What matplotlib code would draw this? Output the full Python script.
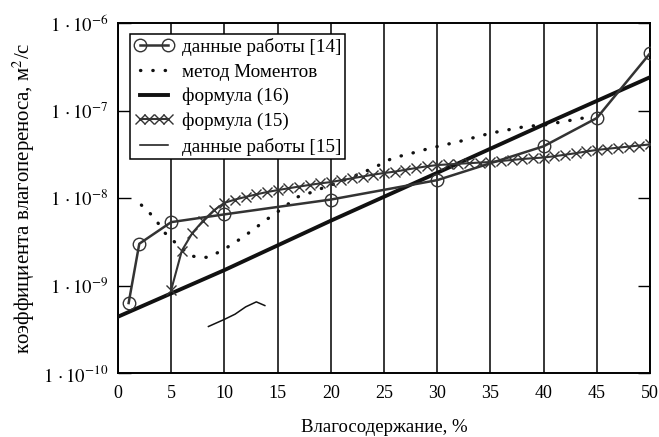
import matplotlib
matplotlib.use("Agg")
import matplotlib.pyplot as plt
from matplotlib.legend_handler import HandlerLine2D
from matplotlib.ticker import FixedLocator, NullLocator

plt.rcParams['font.family'] = ['Liberation Serif', 'DejaVu Serif']
plt.rcParams['mathtext.fontset'] = 'stix'

# ---- data ----
x_w14 = [1, 2, 5, 10, 20, 30, 40, 45, 50]
d_w14 = [6.3e-10, 3.0e-9, 5.3e-9, 6.5e-9, 9.6e-9, 1.6e-8, 3.9e-8, 8.2e-8, 4.5e-7]

x_mom = [2.2, 3, 3.7, 4.4, 5.5, 6.8, 7.5, 8.5, 9.3, 10.2, 11, 11.9, 12.9, 13.6,
         14.6, 16.9, 18, 19, 21, 23, 24.3, 25.9, 27, 29.3, 32, 35, 38.4, 40, 44.2]
d_mom = [8.3e-9, 6.7e-9, 5.3e-9, 4.0e-9, 3.0e-9, 2.2e-9, 2.1e-9, 2.1e-9, 2.35e-9,
         2.7e-9, 3.1e-9, 3.7e-9, 4.5e-9, 5.3e-9, 6.4e-9, 1.03e-8, 1.14e-8, 1.27e-8,
         1.55e-8, 1.95e-8, 2.3e-8, 2.9e-8, 3.1e-8, 3.7e-8, 4.4e-8, 5.5e-8, 6.6e-8,
         6.8e-8, 8.4e-8]

x_f16 = [0, 10, 20, 30, 40, 50]
d_f16 = [4.4e-10, 1.5e-9, 5.5e-9, 1.94e-8, 6.9e-8, 2.4e-7]

x_f15 = list(range(5, 51))
d_f15 = [8.9e-10, 2.5e-9, 4.0e-9, 5.5e-9, 7.2e-9, 8.8e-9, 9.6e-9, 1.03e-8, 1.1e-8,
         1.17e-8, 1.23e-8, 1.29e-8, 1.35e-8, 1.41e-8, 1.47e-8, 1.52e-8, 1.6e-8,
         1.68e-8, 1.76e-8, 1.85e-8, 1.93e-8, 2.0e-8, 2.1e-8, 2.2e-8, 2.3e-8, 2.38e-8,
         2.42e-8, 2.46e-8, 2.5e-8, 2.54e-8, 2.58e-8, 2.65e-8, 2.72e-8, 2.79e-8,
         2.85e-8, 2.9e-8, 3.0e-8, 3.12e-8, 3.25e-8, 3.4e-8, 3.54e-8, 3.65e-8,
         3.76e-8, 3.87e-8, 3.98e-8, 4.1e-8]

x_w15 = [8.5, 10, 11, 12, 13, 13.8]
d_w15 = [3.4e-10, 4.1e-10, 4.7e-10, 5.7e-10, 6.5e-10, 5.9e-10]

labels = ['данные работы [14]', 'метод Моментов', 'формула (16)',
          'формула (15)', 'данные работы [15]']
xticks = [0, 5, 10, 15, 20, 25, 30, 35, 40, 45, 50]
yticks = [1e-10, 1e-9, 1e-8, 1e-7, 1e-6]
ytick_labels = [r'$1\,\cdot 10^{-10}$', r'$1\,\cdot 10^{-9}$', r'$1\,\cdot 10^{-8}$',
                r'$1\,\cdot 10^{-7}$', r'$1\,\cdot 10^{-6}$']

# ---- figure ----
fig = plt.figure(figsize=(6.59, 4.37), dpi=100)
ax = fig.add_axes([118/659, 1 - 373/437, 532/659, 350/437])
ax.set_yscale('log')
ax.set_xlim(0, 50)
ax.set_ylim(1e-10, 1e-6)

l1, = ax.plot(x_w14, d_w14, color='#333333', lw=1.8, marker='o', ms=9,
              mfc='none', mec='#333333', mew=1.0, label=labels[0], zorder=4)
l2, = ax.plot(x_mom, d_mom, color='#111111', lw=2.4, linestyle=(0, (0.1, 3.6)),
              dash_capstyle='round', label=labels[1], zorder=3)
l3, = ax.plot(x_f16, d_f16, color='#111111', lw=2.8, label=labels[2], zorder=3)
l4, = ax.plot(x_f15, d_f15, color='#333333', lw=1.5, marker='x', ms=7,
              mew=1.0, label=labels[3], zorder=4)
l5, = ax.plot(x_w15, d_w15, color='#111111', lw=1.1, label=labels[4], zorder=3)

ax.xaxis.set_major_locator(FixedLocator(xticks))
ax.set_xticklabels([str(t) for t in xticks], fontsize=13)
ax.yaxis.set_major_locator(FixedLocator(yticks))
ax.yaxis.set_minor_locator(NullLocator())
ax.set_yticklabels(ytick_labels, fontsize=13.5)
ax.tick_params(axis='x', length=0, pad=9)
ax.tick_params(axis='y', direction='in', length=9, width=1.0, right=True, pad=7)
ax.xaxis.grid(True, color='black', lw=1.1)
ax.yaxis.grid(False)
for s in ax.spines.values():
    s.set_linewidth(1.4)

ax.set_xlabel('Влагосодержание, %', fontsize=13.5, labelpad=12)
ax.set_ylabel('коэффициента влагопереноса, м$^2$/с', fontsize=15, labelpad=4)

leg = ax.legend(handles=[l1, l2, l3, l4, l5], loc='upper left',
                bbox_to_anchor=(12/532, (373-34)/350), borderaxespad=0,
                fontsize=13.8, frameon=True, fancybox=False, edgecolor='black',
                framealpha=1, handlelength=2.1, handletextpad=0.4,
                borderpad=0.2, labelspacing=0.38, numpoints=2,
                handler_map={l4: HandlerLine2D(numpoints=4)})
leg.get_frame().set_linewidth(1.1)
leg.set_zorder(10)

fig.savefig('out.png', dpi=100)
